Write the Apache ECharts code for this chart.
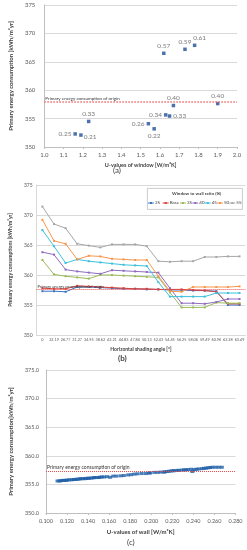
<!DOCTYPE html>
<html><head><meta charset="utf-8">
<script src="https://cdn.jsdelivr.net/npm/echarts@6/dist/echarts.min.js"></script>
<style>html,body{margin:0;padding:0;background:#fff}#c{width:247px;height:550px}</style>
</head><body><div id="c"></div>
<script>
// ---- (a) U-values of window ----
const windowU = [1.16, 1.19, 1.23, 1.54, 1.57, 1.63, 1.65, 1.67, 1.90, 1.62, 1.73, 1.78];
const windowEnergy = [352.3, 352.1, 354.5, 354.1, 353.2, 355.65, 355.45, 357.3, 357.65, 366.5, 367.2, 367.9];
const windowLabels = ['0.25', '0.21', '0.33', '0.26', '0.22', '0.34', '0.33', '0.40', '0.40', '0.57', '0.59', '0.61'];
const originA = 357.95;

// ---- (b) Horizontal shading angle ----
const shadingAngles = ['0', '22.19', '26.77', '31.27', '34.95', '38.62', '42.21', '44.83', '47.84', '50.13', '52.43', '54.45', '56.25', '58.06', '59.49', '60.96', '62.28', '63.49'];
const ratioNames = ['25', 'Base', '35', '40', '45', '50', '55'];
const ratio25   = [357.3, 357.3, 357.2, 358.0, 358.0, 357.9, 357.8, 357.7, 357.7, 357.6, 357.6, 357.5, 357.5, 357.4, 357.4, 357.3, 355.0, 355.0];
const ratioBase = [357.8, 357.7, 357.7, 358.2, 358.1, 358.0, 357.9, 357.8, 357.7, 357.7, 357.6, 357.6, 357.6, 357.5, 357.4, 357.2, 355.2, 355.2];
const ratio35   = [362.5, 360.1, 359.8, 359.6, 359.4, 360.0, 360.0, 359.9, 359.8, 359.7, 359.6, 357.1, 354.6, 354.6, 354.6, 355.4, 355.3, 355.3];
const ratio40   = [363.8, 363.4, 360.9, 360.6, 360.4, 360.2, 360.8, 360.7, 360.6, 360.5, 360.4, 357.8, 355.3, 355.3, 355.2, 355.5, 356.0, 356.0];
const ratio45   = [367.5, 364.8, 362.0, 362.6, 362.3, 362.1, 361.9, 361.7, 361.6, 361.5, 358.8, 356.4, 356.4, 356.4, 356.4, 357.0, 357.0, 357.0];
const ratio50   = [369.2, 365.7, 365.2, 362.6, 363.2, 363.1, 362.7, 362.6, 362.5, 362.5, 359.8, 357.3, 357.2, 358.0, 358.0, 358.0, 358.0, 358.1];
const ratio55   = [371.4, 368.5, 367.8, 365.2, 364.9, 364.6, 365.1, 365.1, 365.1, 364.8, 362.3, 362.2, 362.3, 362.3, 363.0, 363.0, 363.1, 363.1];
const originB = 357.6;

// ---- (c) U-values of wall ----
const wallU = [0.111, 0.113, 0.114, 0.116, 0.117, 0.119, 0.120, 0.122, 0.124, 0.126, 0.127, 0.129, 0.130, 0.132, 0.133, 0.135, 0.137, 0.138, 0.140, 0.141, 0.143, 0.145, 0.146, 0.148, 0.150, 0.151, 0.153, 0.155, 0.158, 0.161, 0.164, 0.167, 0.171, 0.174, 0.178, 0.181, 0.184, 0.187, 0.191, 0.195, 0.198, 0.199, 0.203, 0.206, 0.209, 0.212, 0.213, 0.215, 0.217, 0.219, 0.221, 0.222, 0.225, 0.226, 0.229, 0.231, 0.233, 0.235, 0.238, 0.239, 0.241, 0.243, 0.245, 0.248, 0.250, 0.252, 0.254, 0.256, 0.258, 0.261, 0.264, 0.267];
const wallEnergy = [355.6, 355.6, 355.65, 355.7, 355.7, 355.7, 355.75, 355.8, 355.8, 355.85, 355.85, 355.9, 355.9, 355.95, 356.0, 356.0, 356.0, 356.05, 356.05, 356.1, 356.1, 356.15, 356.2, 356.2, 356.2, 356.25, 356.3, 356.3, 356.35, 356.25, 356.45, 356.45, 356.5, 356.55, 356.65, 356.7, 356.8, 356.85, 356.9, 356.9, 357.0, 357.0, 357.1, 357.1, 357.15, 357.15, 357.2, 357.25, 357.3, 357.35, 357.4, 357.4, 357.45, 357.45, 357.5, 357.55, 357.55, 357.6, 357.65, 357.25, 357.6, 357.65, 357.7, 357.75, 357.8, 357.85, 357.9, 357.95, 358.0, 358.0, 358.0, 358.0];
const originC = 357.3;

const FONT = 'Lato';
const originText = 'Primary energy consumption of origin';
const ratioColors = ['#3a74c4', '#d9403a', '#9bbb59', '#8e6bbf', '#3cc0db', '#f7964a', '#a6a6a6'];
const ratioSeries = [ratio25, ratioBase, ratio35, ratio40, ratio45, ratio50, ratio55];
// label placement of (a) point labels
const labelPlace = [['left',[0,0]],['right',[-1,2]],['top',[0,0]],['left',[0,0]],['bottom',[0,0]],['left',[0,0]],['right',[0,0]],['top',[0,0]],['top',[0,0]],['top',[0,0]],['top',[0,0]],['top',[5,0]]];
const legendLeft = [148, 162.7, 180, 192.3, 204.7, 217, 229.3];
const legendY = 203;

const chart = echarts.init(document.getElementById('c'), null, {renderer: 'canvas'});

const axisLbl = (fs) => ({fontFamily: FONT, fontSize: fs, color: '#595959'});
const nameSt = (fs) => ({fontFamily: FONT, fontSize: fs, color: '#404040', fontWeight: 'bold'});
const gridLine = {show: true, lineStyle: {color: '#d9d9d9', width: 1}};

function refLine(val, fs, color, width) {
  return {
    silent: true, symbol: 'none', animation: false,
    lineStyle: {type: 'dotted', color: color, width: width},
    label: {show: true, position: 'insideStartTop', formatter: originText, fontFamily: FONT, fontSize: fs, color: '#333', distance: [1, 1]},
    data: [{yAxis: val}]
  };
}

const series = [];
series.push({
  type: 'scatter', xAxisIndex: 0, yAxisIndex: 0, symbol: 'rect', symbolSize: 3.5,
  itemStyle: {color: '#1f4e99'},
  data: windowU.map((u, i) => ({
    value: [u, windowEnergy[i]],
    label: {show: true, formatter: windowLabels[i], position: labelPlace[i][0], offset: labelPlace[i][1], distance: 2,
            fontFamily: FONT, fontSize: 6.5, color: '#595959'}
  })),
  markLine: refLine(originA, 4.5, '#f06a6a', 1.5)
});
ratioNames.forEach((n, k) => {
  series.push({
    type: 'line', name: n, xAxisIndex: 1, yAxisIndex: 1, data: ratioSeries[k],
    symbol: 'rect', symbolSize: 2, showSymbol: true,
    lineStyle: {width: 1, color: ratioColors[k]}, itemStyle: {color: ratioColors[k]},
    markLine: k === 1 ? refLine(originB, 4, '#e84a4a', 1) : undefined
  });
});
series.push({
  type: 'scatter', xAxisIndex: 2, yAxisIndex: 2, symbol: 'rect', symbolSize: [4, 3],
  itemStyle: {color: '#1f5fa8'},
  data: wallU.map((u, i) => [u, wallEnergy[i]]),
  markLine: refLine(originC, 5, '#e84a4a', 1)
});

// legend drawn as a graphic group (line + marker + text per series)
const legendGraphics = [];
ratioNames.forEach((n, k) => {
  const x = legendLeft[k];
  legendGraphics.push({type: 'line', shape: {x1: x, y1: legendY, x2: x + 6, y2: legendY}, style: {stroke: ratioColors[k], lineWidth: 1}});
  legendGraphics.push({type: 'rect', shape: {x: x + 2, y: legendY - 1, width: 2, height: 2}, style: {fill: ratioColors[k]}});
  legendGraphics.push({type: 'text', x: x + 7, y: legendY, style: {text: n, fontFamily: FONT, fontSize: 4.5, fill: '#404040', verticalAlign: 'middle'}});
});

chart.setOption({
  animation: false,
  textStyle: {fontFamily: FONT},
  grid: [
    {left: 32, top: 5, width: 205, height: 142},
    {left: 24, top: 185, width: 222, height: 150},
    {left: 33, top: 370, width: 202.5, height: 143}
  ],
  xAxis: [
    {type: 'value', gridIndex: 0, min: 1.0, max: 2.0, interval: 0.1,
     axisLabel: Object.assign(axisLbl(6), {formatter: v => v.toFixed(1), margin: 5}),
     axisLine: {lineStyle: {color: '#bfbfbf'}}, axisTick: {show: true, length: 2, lineStyle: {color: '#bfbfbf'}},
     splitLine: {show: false},
     name: 'U-values of window [W/m\u00B2K]', nameLocation: 'middle', nameGap: 15, nameTextStyle: nameSt(5.5)},
    {type: 'category', gridIndex: 1, data: shadingAngles, boundaryGap: true,
     axisLabel: Object.assign(axisLbl(3.8), {interval: 0, margin: 3}),
     axisLine: {lineStyle: {color: '#d9d9d9'}}, axisTick: {show: false},
     name: 'Horizontal shading angle [\u00B0]', nameLocation: 'middle', nameGap: 12, nameTextStyle: nameSt(5)},
    {type: 'value', gridIndex: 2, min: 0.1, max: 0.28, interval: 0.02,
     axisLabel: Object.assign(axisLbl(5.5), {formatter: v => v.toFixed(3), margin: 5}),
     axisLine: {lineStyle: {color: '#bfbfbf'}}, axisTick: {show: true, length: 2, lineStyle: {color: '#bfbfbf'}},
     splitLine: {show: false},
     name: 'U-values of wall [W/m\u00B2K]', nameLocation: 'middle', nameGap: 16, nameTextStyle: nameSt(6)}
  ],
  yAxis: [
    {type: 'value', gridIndex: 0, min: 350, max: 375, interval: 5,
     axisLabel: Object.assign(axisLbl(6), {margin: 9}),
     axisLine: {show: true, lineStyle: {color: '#bfbfbf'}}, axisTick: {show: false}, splitLine: gridLine,
     name: 'Primary energy consumption [kWh/m\u00B2yr]', nameLocation: 'middle', nameGap: 26, nameTextStyle: nameSt(6)},
    {type: 'value', gridIndex: 1, min: 350, max: 375, interval: 5,
     axisLabel: Object.assign(axisLbl(5), {margin: 4}),
     axisLine: {show: true, lineStyle: {color: '#d9d9d9'}}, axisTick: {show: false}, splitLine: gridLine,
     name: 'Primary energy consumptions [kWh/m\u00B2yr]', nameLocation: 'middle', nameGap: 19, nameTextStyle: nameSt(5)},
    {type: 'value', gridIndex: 2, min: 350, max: 375, interval: 5,
     axisLabel: Object.assign(axisLbl(5.5), {formatter: v => v.toFixed(1), margin: 7}),
     axisLine: {show: true, lineStyle: {color: '#bfbfbf'}}, axisTick: {show: false}, splitLine: gridLine,
     name: 'Primary energy consumption[kWh/m\u00B2yr]', nameLocation: 'middle', nameGap: 25, nameTextStyle: nameSt(6)}
  ],
  graphic: [
    {type: 'rect', left: 147, top: 188, shape: {width: 95, height: 21}, style: {fill: '#fff', stroke: '#bfbfbf', lineWidth: 0.8}},
    {type: 'text', left: 172, top: 191, style: {text: 'Window to wall ratio (%)', fontFamily: FONT, fontSize: 4.5, fontWeight: 'bold', fill: '#404040'}},
    {type: 'group', children: legendGraphics},
    {type: 'text', left: 113, top: 166, style: {text: '(a)', fontFamily: FONT, fontSize: 8, fill: '#404040'}},
    {type: 'text', left: 118, top: 354, style: {text: '(b)', fontFamily: FONT, fontSize: 8, fontWeight: 'bold', fill: '#404040'}},
    {type: 'text', left: 127, top: 538, style: {text: '(c)', fontFamily: FONT, fontSize: 8, fill: '#404040'}}
  ],
  series: series
});
</script></body></html>
